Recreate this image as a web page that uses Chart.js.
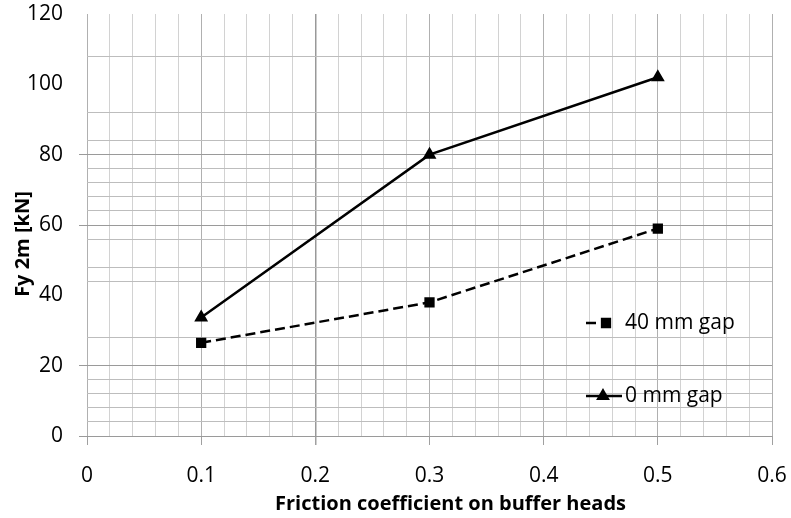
<!DOCTYPE html>
<html>
<head>
<meta charset="utf-8">
<script src="https://cdn.jsdelivr.net/npm/chart.js@4/dist/chart.umd.min.js"></script>
<style>
  html, body { margin: 0; padding: 0; background: #fff; }
  #wrap { width: 791px; height: 518px; position: relative; }
</style>
</head>
<body>
<div id="wrap"><canvas id="chart"></canvas></div>
<script>
// Friction coefficient vs Fy 2m, two gap settings
var frictionValues = [0.1, 0.3, 0.5];
var gap40Values = [26.5, 38, 59];
var gap0Values = [33.7, 80, 102];
var seriesNames = ["40 mm gap", "0 mm gap"];

var xTickLabels = ["0", "0.1", "0.2", "0.3", "0.4", "0.5", "0.6"];
var yTickLabels = ["0", "20", "40", "60", "80", "100", "120"];
// gridlines as they appear in the picture
var xGridValues = [0, 0.02, 0.04, 0.06, 0.08, 0.1, 0.12, 0.14, 0.16, 0.18, 0.2, 0.22, 0.24, 0.26, 0.28, 0.3,
  0.32, 0.34, 0.36, 0.38, 0.4, 0.42, 0.44, 0.46, 0.48, 0.5, 0.52, 0.54, 0.56, 0.58, 0.6];
var yGridValues = [0, 4, 8, 12, 16, 20, 28, 44, 48, 56, 60, 64, 68, 72, 76, 80, 84, 92, 108];
var yMarkedValues = [0, 20, 60, 80];

var FONT = "'Open Sans', sans-serif";

function toPoints(xs, ys) {
  return xs.map(function (x, i) { return { x: x, y: ys[i] }; });
}

function near(a, b) { return Math.abs(a - b) < 1e-6; }

var overlay = {
  id: "overlay",
  afterDraw: function (chart) {
    var ctx = chart.ctx;
    var area = chart.chartArea;
    ctx.save();
    ctx.fillStyle = "#000";
    ctx.font = "bold 20px " + FONT;
    ctx.textAlign = "center";
    ctx.textBaseline = "middle";
    ctx.fillText("Friction coefficient on buffer heads", (area.left + area.right) / 2 + 21, 504);
    ctx.translate(23, (area.top + area.bottom) / 2 + 19);
    ctx.rotate(-Math.PI / 2);
    ctx.fillText("Fy 2m [kN]", 0, 0);
    ctx.restore();

    // legend inside plot area
    var items = [
      { ds: 0, x1: 586, x2: 614, mx: 606, y: 323 },
      { ds: 1, x1: 586, x2: 622, mx: 603, y: 396 }
    ];
    items.forEach(function (it) {
      var d = chart.data.datasets[it.ds];
      ctx.save();
      ctx.strokeStyle = d.borderColor;
      ctx.lineWidth = d.borderWidth;
      ctx.setLineDash(d.borderDash || []);
      ctx.beginPath();
      ctx.moveTo(it.x1, it.y);
      ctx.lineTo(it.x2, it.y);
      ctx.stroke();
      ctx.setLineDash([]);
      ctx.fillStyle = d.pointBackgroundColor;
      ctx.strokeStyle = d.pointBorderColor;
      Chart.helpers.drawPoint(ctx, {
        pointStyle: d.pointStyle, radius: d.pointRadius, borderWidth: 1, rotation: 0
      }, it.mx, it.y);
      ctx.fillStyle = "#000";
      ctx.font = "21px " + FONT;
      ctx.textAlign = "left";
      ctx.textBaseline = "middle";
      ctx.fillText(d.label, 625, it.y);
      ctx.restore();
    });
  }
};

new Chart(document.getElementById("chart").getContext("2d"), {
  type: "line",
  data: {
    datasets: [{
      label: seriesNames[0],
      data: toPoints(frictionValues, gap40Values),
      borderColor: "#000",
      borderWidth: 2.5,
      borderDash: [10, 5],
      pointStyle: "rect",
      pointRadius: 5.5,
      pointBackgroundColor: "#000",
      pointBorderColor: "#000",
      tension: 0,
      fill: false
    }, {
      label: seriesNames[1],
      data: toPoints(frictionValues, gap0Values),
      borderColor: "#000",
      borderWidth: 2.5,
      pointStyle: "triangle",
      pointRadius: 5.5,
      pointBackgroundColor: "#000",
      pointBorderColor: "#000",
      tension: 0,
      fill: false
    }]
  },
  options: {
    responsive: true,
    maintainAspectRatio: false,
    animation: false,
    layout: { padding: 0 },
    plugins: { legend: { display: false }, tooltip: { enabled: false } },
    scales: {
      x: {
        type: "linear",
        min: 0,
        max: 0.6,
        afterBuildTicks: function (s) { s.ticks = xGridValues.map(function (v) { return { value: v }; }); },
        afterFit: function (s) {
          s.height = 82;
          s.paddingLeft = 0;
          s.paddingRight = 19;
        },
        border: { display: false },
        grid: {
          tickLength: 9,
          color: function (c) {
            var v = c.tick.value;
            if (near(v, 0.2)) return "#999";
            if (near(v * 10, Math.round(v * 10))) return "#b0b0b0";
            return "#d2d2d2";
          },
          lineWidth: function (c) { return near(c.tick.value, 0.2) ? 1.5 : 1; },
          tickColor: function (c) {
            var v = c.tick.value;
            return near(v * 10, Math.round(v * 10)) ? "#a0a0a0" : "rgba(0,0,0,0)";
          }
        },
        ticks: {
          autoSkip: false,
          maxRotation: 0,
          padding: 18,
          color: "#000",
          font: { family: FONT, size: 21 },
          callback: function (v) {
            return near(v * 10, Math.round(v * 10)) ? xTickLabels[Math.round(v * 10)] : "";
          }
        }
      },
      y: {
        min: 0,
        max: 120,
        afterBuildTicks: function (s) {
          var vals = yGridValues.slice();
          yTickLabels.forEach(function (l) { if (vals.indexOf(+l) < 0) vals.push(+l); });
          vals.sort(function (a, b) { return a - b; });
          s.ticks = vals.map(function (v) { return { value: v }; });
        },
        afterFit: function (s) {
          s.width = 87;
          s.paddingTop = 14;
          s.paddingBottom = 0;
        },
        border: { display: false },
        grid: {
          tickLength: 8,
          color: function (c) {
            var v = c.tick.value;
            if (yGridValues.indexOf(v) < 0) return "rgba(0,0,0,0)";
            return yMarkedValues.indexOf(v) >= 0 ? "#9a9a9a" : "#bdbdbd";
          },
          tickColor: function (c) {
            return yMarkedValues.indexOf(c.tick.value) >= 0 ? "#9a9a9a" : "rgba(0,0,0,0)";
          }
        },
        ticks: {
          autoSkip: false,
          padding: 16,
          color: "#000",
          font: { family: FONT, size: 21 },
          callback: function (v) { return v % 20 === 0 ? yTickLabels[v / 20] : ""; }
        }
      }
    }
  },
  plugins: [overlay]
});
</script>
</body>
</html>
